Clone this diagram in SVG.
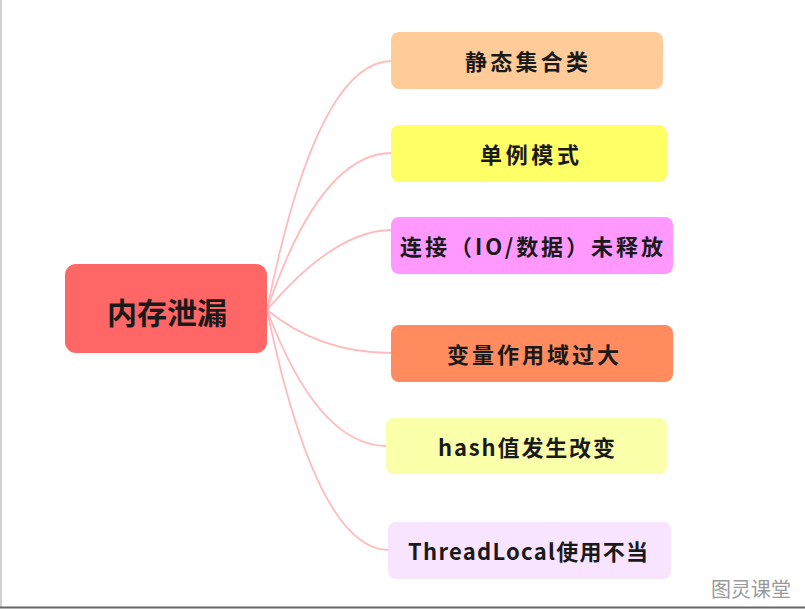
<svg xmlns="http://www.w3.org/2000/svg" width="805" height="609" viewBox="0 0 805 609">
<style>
.bg{fill:#ffffff}
.node{stroke:none}
.lbl{font-family:"Noto Sans CJK SC","Noto Sans",sans-serif;font-weight:bold;font-size:22px;fill:#1a1a1a;text-anchor:middle;dominant-baseline:central}
.root{font-size:30px}
.conn{fill:none;stroke:#FFBBBB;stroke-width:1.8}
.wm{font-family:"Noto Sans CJK SC",sans-serif;font-size:20px;fill:#9a9a9a;text-anchor:middle;dominant-baseline:central}
</style>
<rect class="bg" x="0" y="0" width="805" height="609"/>
<line x1="1" y1="0" x2="1" y2="607" stroke="#c0c0c0" stroke-width="1.5"/>
<line x1="0" y1="607.5" x2="805" y2="607.5" stroke="#666666" stroke-width="2"/>
<g id="connectors">
<path class="conn" d="M267,310 Q317,61 392,61"/>
<path class="conn" d="M267,310 Q320,153 392,153"/>
<path class="conn" d="M267,310 Q335,230 392,230"/>
<path class="conn" d="M267,310 Q320,353 391,353"/>
<path class="conn" d="M267,310 Q318,446 387,446"/>
<path class="conn" d="M267,310 Q317,550 389,550"/>
</g>
<g id="root">
<rect class="node" x="65" y="264" width="202" height="89" rx="11" fill="#FF6666"/>
<text class="lbl root" x="167" y="311" textLength="120" lengthAdjust="spacing">内存泄漏</text>
</g>
<g id="n1">
<rect class="node" x="391" y="32" width="272" height="57" rx="8" fill="#FFCC99"/>
<text class="lbl" x="526.5" y="60" font-size="24" textLength="123" lengthAdjust="spacing">静态集合类</text>
</g>
<g id="n2">
<rect class="node" x="391" y="125" width="276" height="57" rx="8" fill="#FFFF66"/>
<text class="lbl" x="529.5" y="153" font-size="24" textLength="99" lengthAdjust="spacing">单例模式</text>
</g>
<g id="n3">
<rect class="node" x="391" y="217" width="282" height="57" rx="8" fill="#FF99FF"/>
<text class="lbl" x="531.5" y="245" font-size="22" textLength="263" lengthAdjust="spacing">连接（IO/数据）未释放</text>
</g>
<g id="n4">
<rect class="node" x="391" y="325" width="282" height="57" rx="8" fill="#FF8B5F"/>
<text class="lbl" x="533" y="353" font-size="23" textLength="172" lengthAdjust="spacing">变量作用域过大</text>
</g>
<g id="n5">
<rect class="node" x="386" y="418" width="281" height="56" rx="8" fill="#FAFFAA"/>
<text class="lbl" x="526.5" y="446" font-size="23" textLength="177" lengthAdjust="spacing">hash值发生改变</text>
</g>
<g id="n6">
<rect class="node" x="388" y="522" width="283" height="57" rx="8" fill="#F8E4FF"/>
<text class="lbl" x="528" y="550" font-size="22" textLength="240" lengthAdjust="spacing">ThreadLocal使用不当</text>
</g>
<text class="wm" x="751" y="588">图灵课堂</text>
</svg>
